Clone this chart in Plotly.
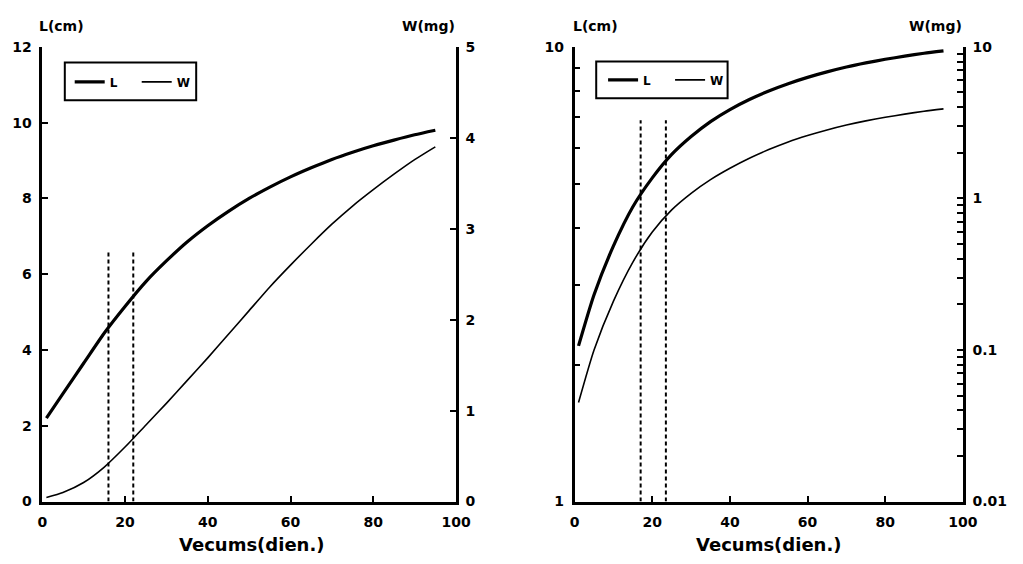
import plotly.graph_objects as go

# ---------------- data ----------------
days = [1, 5, 10, 15, 20, 25, 30, 35, 40, 45, 50, 55, 60, 65, 70, 75, 80, 85, 90, 95]
length_cm = [2.2, 2.85, 3.65, 4.45, 5.15, 5.8, 6.35, 6.85, 7.28, 7.66, 8.0, 8.3, 8.57,
             8.81, 9.03, 9.22, 9.39, 9.54, 9.68, 9.8]
weight_mg = [0.045, 0.1, 0.21, 0.38, 0.6, 0.84, 1.08, 1.33, 1.58, 1.84, 2.1, 2.36,
             2.6, 2.83, 3.05, 3.25, 3.43, 3.6, 3.76, 3.9]

dash_days_left = [16, 22]
dash_top_left = 6.6
dash_days_right = [17, 23.5]
dash_top_right = 6.9

x_ticks = [0, 20, 40, 60, 80, 100]
L_ticks_lin = [0, 2, 4, 6, 8, 10, 12]
W_ticks_lin = [0, 1, 2, 3, 4, 5]
L_ticks_log = [1, 2, 3, 4, 5, 6, 7, 8, 9, 10]
L_labels_log = ["1", "", "", "", "", "", "", "", "", "10"]
W_ticks_log = [0.01, 0.02, 0.03, 0.04, 0.05, 0.06, 0.07, 0.08, 0.09,
               0.1, 0.2, 0.3, 0.4, 0.5, 0.6, 0.7, 0.8, 0.9,
               1, 2, 3, 4, 5, 6, 7, 8, 9, 10]
W_labels_log = ["0.01"] + [""] * 8 + ["0.1"] + [""] * 8 + ["1"] + [""] * 8 + ["10"]

x_title = "Vecums(dien.)"
L_title = "L(cm)"
W_title = "W(mg)"

# ---------------- layout helpers ----------------
FW, FH = 1023, 564
def px(x):
    return x / FW
def py(y):
    return 1 - y / FH

FONT = "DejaVu Sans"
tickfont = dict(family=FONT, size=14, color="black", weight="bold")
top, bottom = 40, 508
ydom = [py(bottom), py(top)]

fig = go.Figure()

thick = dict(color="black", width=3.2, shape="spline", smoothing=0.6)
thin = dict(color="black", width=1.6, shape="spline", smoothing=0.6)
dashed = dict(color="black", width=2, dash="4px,3px")

# left chart
fig.add_trace(go.Scatter(x=days, y=length_cm, mode="lines", name="L", line=thick,
                         xaxis="x", yaxis="y", legend="legend"))
fig.add_trace(go.Scatter(x=days, y=weight_mg, mode="lines", name="W", line=thin,
                         xaxis="x", yaxis="y2", legend="legend"))
for d in dash_days_left:
    fig.add_trace(go.Scatter(x=[d, d], y=[0, dash_top_left], mode="lines", showlegend=False,
                             line=dashed, xaxis="x", yaxis="y"))

# right chart
fig.add_trace(go.Scatter(x=days, y=length_cm, mode="lines", name="L", line=thick,
                         xaxis="x2", yaxis="y3", legend="legend2"))
fig.add_trace(go.Scatter(x=days, y=weight_mg, mode="lines", name="W", line=thin,
                         xaxis="x2", yaxis="y4", legend="legend2"))
for d in dash_days_right:
    fig.add_trace(go.Scatter(x=[d, d], y=[1, dash_top_right], mode="lines", showlegend=False,
                             line=dashed, xaxis="x2", yaxis="y3"))

axis_common = dict(showgrid=False, zeroline=False, showline=True, linecolor="black",
                   linewidth=2.5, ticks="inside", ticklen=6, tickwidth=2, tickcolor="black",
                   tickfont=tickfont, fixedrange=True)

legend_common = dict(orientation="h", bgcolor="rgba(0,0,0,0)", borderwidth=0,
                     font=dict(family=FONT, size=12, color="black", weight="bold"),
                     itemwidth=30, entrywidth=22, entrywidthmode="pixels",
                     xanchor="left", yanchor="middle", traceorder="normal")

fig.update_layout(
    width=FW, height=FH,
    margin=dict(l=0, r=0, t=0, b=0),
    paper_bgcolor="white", plot_bgcolor="white",
    xaxis=dict(domain=[px(38), px(460)], range=[0, 100], tickvals=x_ticks,
               anchor="y", ticklabelstandoff=6, **axis_common),
    yaxis=dict(domain=ydom, range=[0, 12], tickvals=L_ticks_lin, anchor="x",
               ticklabelstandoff=5, **axis_common),
    yaxis2=dict(range=[0, 5], tickvals=W_ticks_lin, overlaying="y", side="right",
                anchor="x", ticklabelstandoff=4, **axis_common),
    xaxis2=dict(domain=[px(581), px(977)], range=[0, 100], tickvals=x_ticks,
                anchor="y3", ticklabelstandoff=6, **axis_common),
    yaxis3=dict(domain=ydom, type="log", range=[0, 1], tickvals=L_ticks_log,
                ticktext=L_labels_log, anchor="x2", ticklabelstandoff=5, **axis_common),
    yaxis4=dict(type="log", range=[-2, 1], tickvals=W_ticks_log, ticktext=W_labels_log,
                overlaying="y3", side="right", anchor="x2", ticklabelstandoff=4,
                **axis_common),
    legend=dict(x=px(66), y=py(76), **legend_common),
    legend2=dict(x=px(610), y=py(74), **legend_common),
    showlegend=True,
)

# legend frames
fig.add_shape(type="rect", xref="paper", yref="paper", x0=px(61), x1=px(195),
              y0=py(95), y1=py(56), line=dict(color="black", width=2))
fig.add_shape(type="rect", xref="paper", yref="paper", x0=px(603), x1=px(737),
              y0=py(93), y1=py(55), line=dict(color="black", width=2))

title_font = dict(family=FONT, size=14, color="black", weight="bold")
for (xx, anchor, text) in [(33, "left", L_title), (461, "right", W_title),
                           (577, "left", L_title), (978, "right", W_title)]:
    fig.add_annotation(x=px(xx), y=py(19), xref="paper", yref="paper", text=text,
                       showarrow=False, xanchor=anchor, yanchor="middle", font=title_font)

xt_font = dict(family=FONT, size=18, color="black", weight="bold")
for cx in [251, 779]:
    fig.add_annotation(x=px(cx), y=py(552), xref="paper", yref="paper", text=x_title,
                       showarrow=False, xanchor="center", yanchor="middle", font=xt_font)

fig.write_html("out.html")
